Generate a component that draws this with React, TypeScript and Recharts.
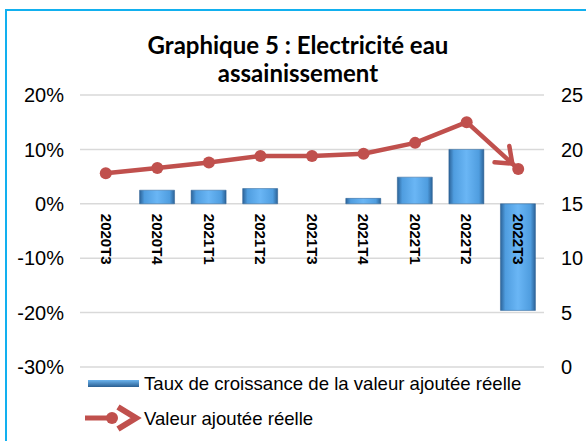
import React from "react";
import {
  ComposedChart,
  Bar,
  Line,
  XAxis,
  YAxis,
  CartesianGrid,
} from "recharts";

const quarters = ["2020T3", "2020T4", "2021T1", "2021T2", "2021T3", "2021T4", "2022T1", "2022T2", "2022T3"];
const growthRate = [0, 2.5, 2.5, 2.8, 0, 1.0, 4.9, 10.0, -19.6];
const realValue = [17.8, 18.3, 18.8, 19.4, 19.4, 19.6, 20.6, 22.5, 18.2];
const leftTicks = [-30, -20, -10, 0, 10, 20];
const rightTicks = [0, 5, 10, 15, 20, 25];

const data = quarters.map((q, i) => ({ q, growth: growthRate[i], value: realValue[i] }));

const W = 586;
const H = 441;
const TOP = 95;
const BOTTOM = 74;
const XAXIS_H = 20;
const RED = "#C0504D";
const AXIS_FONT = "'Liberation Sans', Arial, sans-serif";

// y of the zero line, from the left axis domain
const plotH = H - TOP - BOTTOM;
const leftMax = leftTicks[leftTicks.length - 1];
const zeroY = TOP + (plotH * leftMax) / (leftMax - leftTicks[0]);

const QuarterTick = (props: any) => {
  const { x, payload } = props;
  const y = zeroY + 10;
  return (
    <text
      x={x}
      y={y}
      transform={`rotate(90 ${x} ${y})`}
      dy="0.35em"
      textAnchor="start"
      fontFamily={AXIS_FONT}
      fontWeight="bold"
      fontSize={15}
      fill="#000"
    >
      {payload.value}
    </text>
  );
};

const LegendBox = () => (
  <svg width={W} height={H} style={{ position: "absolute", left: 0, top: 0, pointerEvents: "none" }}>
    <rect x={88} y={380} width={51} height={7} fill="url(#legBar)" />
    <text x={144} y={383} dy="0.35em" fontFamily={AXIS_FONT} fontSize={18.6} fill="#000">
      Taux de croissance de la valeur ajoutée réelle
    </text>
    <line x1={85} y1={418} x2={112} y2={418} stroke={RED} strokeWidth={5} />
    <circle cx={112} cy={418} r={6} fill={RED} />
    <path d="M118,407 L136,418 L118,429" stroke={RED} strokeWidth={6} fill="none" />
    <text x={144} y={418} dy="0.35em" fontFamily={AXIS_FONT} fontSize={18.6} fill="#000">
      Valeur ajoutée réelle
    </text>
  </svg>
);

export default function App() {
  return (
    <div
      style={{
        position: "absolute",
        left: 0,
        top: 0,
        width: W,
        height: H,
        overflow: "hidden",
        background: "#fff",
      }}
    >
      <svg width={0} height={0} style={{ position: "absolute" }}>
        <defs>
          <linearGradient id="barFill" x1="0" y1="0" x2="1" y2="0">
            <stop offset="0%" stopColor="#2c6398" />
            <stop offset="14%" stopColor="#4f9ddf" />
            <stop offset="50%" stopColor="#6ab6f5" />
            <stop offset="86%" stopColor="#4f9ddf" />
            <stop offset="100%" stopColor="#2c6398" />
          </linearGradient>
          <linearGradient id="legBar" x1="0" y1="0" x2="0" y2="1">
            <stop offset="0%" stopColor="#6cb4ee" />
            <stop offset="100%" stopColor="#2a5f92" />
          </linearGradient>
          <marker
            id="arrowEnd"
            viewBox="0 0 30 30"
            markerUnits="userSpaceOnUse"
            markerWidth={30}
            markerHeight={30}
            refX={33}
            refY={15}
            orient="auto"
          >
            <path d="M11,4 L25,15 L11,26" stroke={RED} strokeWidth={4.5} fill="none" strokeLinecap="round" />
          </marker>
        </defs>
      </svg>
      <div
        style={{
          position: "absolute",
          left: 5,
          top: 9,
          width: 700,
          height: 600,
          border: "2px solid #12b0ef",
        }}
      />
      <div
        style={{
          position: "absolute",
          left: 98,
          width: 400,
          top: 31,
          textAlign: "center",
          fontFamily: "Lato, 'Open Sans', sans-serif",
          fontWeight: "bold",
          fontSize: 24,
          lineHeight: "28px",
          color: "#000",
        }}
      >
        Graphique 5 : Electricité eau
        <br />
        assainissement
      </div>
      <div style={{ position: "absolute", left: 0, top: 0 }}>
        <ComposedChart
          width={W}
          height={H}
          data={data}
          margin={{ top: TOP, right: 0, bottom: BOTTOM - XAXIS_H, left: 0 }}
          barSize={35}
        >
          <CartesianGrid vertical={false} stroke="#d9d9d9" strokeWidth={1.5} yAxisId="left" />
          <XAxis
            dataKey="q"
            height={XAXIS_H}
            axisLine={false}
            tickLine={false}
            tick={<QuarterTick />}
            interval={0}
          />
          <YAxis
            yAxisId="left"
            width={80}
            domain={[leftTicks[0], leftMax]}
            ticks={leftTicks}
            tickFormatter={(v) => `${v}%`}
            axisLine={false}
            tickLine={false}
            tickSize={0}
            tickMargin={16}
            tick={{ fontSize: 20, fill: "#000", fontFamily: AXIS_FONT }}
          />
          <YAxis
            yAxisId="right"
            orientation="right"
            width={W - 544}
            domain={[rightTicks[0], rightTicks[rightTicks.length - 1]]}
            ticks={rightTicks}
            axisLine={false}
            tickLine={false}
            tickSize={0}
            tickMargin={17}
            tick={{ fontSize: 20, fill: "#000", fontFamily: AXIS_FONT }}
          />
          <Bar
            yAxisId="left"
            dataKey="growth"
            name="Taux de croissance de la valeur ajoutée réelle"
            fill="url(#barFill)"
            stroke="#2a5f92"
            strokeWidth={0.5}
            isAnimationActive={false}
          />
          <Line
            yAxisId="right"
            dataKey="value"
            name="Valeur ajoutée réelle"
            stroke={RED}
            strokeWidth={4.5}
            markerEnd="url(#arrowEnd)"
            dot={{ r: 6, fill: RED, stroke: RED, strokeWidth: 0 }}
            isAnimationActive={false}
          />
        </ComposedChart>
      </div>
      <LegendBox />
    </div>
  );
}
